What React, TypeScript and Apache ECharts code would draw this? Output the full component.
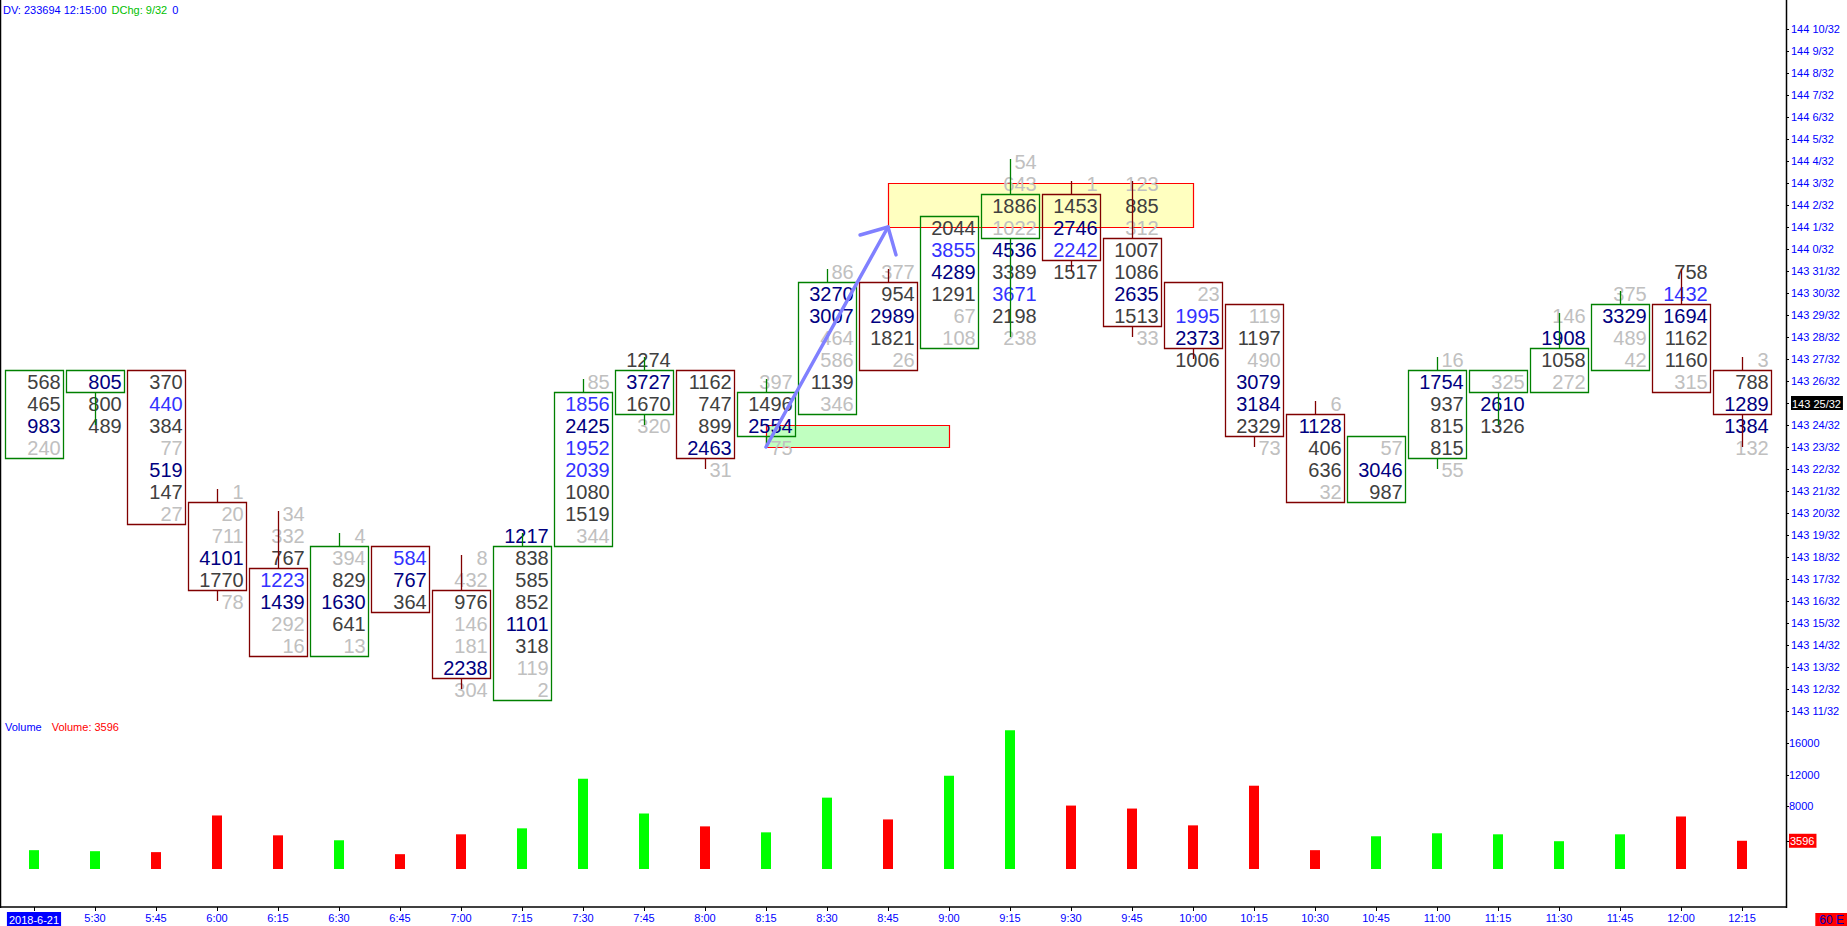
import React from "react";
import * as echarts from "echarts";

// bar times (first one shows the session date)
const timeLabels = [
  "2018-6-21", "5:30", "5:45", "6:00", "6:15", "6:30", "6:45", "7:00", "7:15", "7:30",
  "7:45", "8:00", "8:15", "8:30", "8:45", "9:00", "9:15", "9:30", "9:45", "10:00",
  "10:15", "10:30", "10:45", "11:00", "11:15", "11:30", "11:45", "12:00", "12:15",
];

// prices in 32nds above 143
const highs = [26, 26, 26, 21, 20, 19, 18, 18, 19, 26, 27, 26, 26, 31, 31, 33, 36, 35, 35, 30, 29, 25, 23, 27, 26, 29, 30, 31, 27];
const opens = [23, 26, 26, 20, 17, 14, 18, 16, 12, 19, 25, 26, 24, 25, 30, 28, 33, 34, 32, 30, 29, 24, 21, 23, 26, 26, 27, 29, 26];
const closes = [26, 26, 20, 17, 14, 18, 16, 13, 18, 25, 26, 23, 25, 30, 27, 33, 34, 32, 29, 28, 24, 21, 23, 26, 26, 27, 29, 26, 25];

// traded volume per price level, from the high down
const cellValues = [
  [568, 465, 983, 240],
  [805, 800, 489],
  [370, 440, 384, 77, 519, 147, 27],
  [1, 20, 711, 4101, 1770, 78],
  [34, 332, 767, 1223, 1439, 292, 16],
  [4, 394, 829, 1630, 641, 13],
  [584, 767, 364],
  [8, 432, 976, 146, 181, 2238, 304],
  [1217, 838, 585, 852, 1101, 318, 119, 2],
  [85, 1856, 2425, 1952, 2039, 1080, 1519, 344],
  [1274, 3727, 1670, 320],
  [1162, 747, 899, 2463, 31],
  [397, 1496, 2554, 75],
  [86, 3270, 3007, 464, 586, 1139, 346],
  [377, 954, 2989, 1821, 26],
  [2044, 3855, 4289, 1291, 67, 108],
  [54, 643, 1886, 1022, 4536, 3389, 3671, 2198, 238],
  [1, 1453, 2746, 2242, 1517],
  [123, 885, 312, 1007, 1086, 2635, 1513, 33],
  [23, 1995, 2373, 1006],
  [119, 1197, 490, 3079, 3184, 2329, 73],
  [6, 1128, 406, 636, 32],
  [57, 3046, 987],
  [16, 1754, 937, 815, 815, 55],
  [325, 2610, 1326],
  [146, 1908, 1058, 272],
  [375, 3329, 489, 42],
  [758, 1432, 1694, 1162, 1160, 315],
  [3, 788, 1289, 1384, 132],
];

// level class: g = thin, k = normal, n = strong, b = imbalance
const cellClasses = [
  "kkng", "nkk", "kbkgnkg", "gggnkg", "ggkbngg", "ggknkg", "bnk", "ggkggng",
  "nkkknkgg", "gbnbbkkg", "knkg", "kkkng", "gkng", "gnnggkg", "gknkg", "kbnkgg",
  "ggkgnkbkg", "gknbk", "gkgkknkg", "gbnk", "gkgnnkg", "gnkkg", "gnk", "gnkkkg",
  "gnk", "gnkg", "gngg", "kbnkkg", "gknng",
];

const volumes = [
  2400, 2270, 2150, 6820, 4290, 3660, 1890, 4420, 5180, 11490, 7070, 5430, 4670, 9090, 6315,
  11870, 17680, 8080, 7700, 5560, 10610, 2400, 4170, 4550, 4420, 3540, 4420, 6690, 3596,
];

const priceTicks = [11, 12, 13, 14, 15, 16, 17, 18, 19, 20, 21, 22, 23, 24, 25, 26, 27, 28, 29, 30, 31, 32, 33, 34, 35, 36, 37, 38, 39, 40, 41, 42];
const volumeTicks = [3596, 8000, 12000, 16000];
const lastPrice = 25;
const lastVolume = 3596;

// annotations: [fromBar, fromPrice, toBar, toPrice]
const zones = [
  [14, 35, 19, 33],
  [12, 24, 15, 23],
];
const zoneFills = ["#ffffc0", "#c0ffc0"];
const arrows = [[12, 23, 14, 33]];

const palette: Record<string, string> = {
  g: "#c0c0c0",
  k: "#404040",
  n: "#000080",
  b: "#3333ff",
};
const font = "Liberation Sans";

const fmtPrice = (v: number) => `${143 + Math.floor(v / 32)} ${v % 32}/32`;

export default function App() {
  const chartRef = React.useRef<HTMLDivElement>(null);

  React.useEffect(() => {
    if (!chartRef.current) return;
    const chart = echarts.init(chartRef.current, null, { renderer: "svg" });

    const renderFootprint = (params: any, api: any) => {
      const i = params.dataIndex;
      const vals = cellValues[i];
      const cls = cellClasses[i];
      const top = highs[i];
      const low = top - vals.length + 1;
      const up = closes[i] >= opens[i];
      const edge = up ? "#008000" : "#800000";
      const boxHi = Math.max(opens[i], closes[i]);
      const boxLo = Math.min(opens[i], closes[i]);
      const [cx, yTop] = api.coord([i, boxHi + 0.5]);
      const yBot = api.coord([i, boxLo - 0.5])[1];
      const colW = api.size([1, 1])[0];
      const half = colW * 0.472;
      const children: any[] = [
        {
          type: "rect",
          shape: { x: Math.round(cx - half) + 0.5, y: Math.round(yTop) + 0.5, width: Math.round(half * 2), height: Math.round(yBot - yTop) },
          style: { fill: "none", stroke: edge, lineWidth: 1.3 },
        },
      ];
      vals.forEach((v, k) => {
        const y = api.coord([i, top - k])[1];
        children.push({
          type: "text",
          style: {
            text: String(v),
            x: cx + colW * 0.437,
            y: y + 1,
            align: "right",
            verticalAlign: "middle",
            fill: palette[cls[k]],
            fontSize: 20,
            fontFamily: font,
          },
        });
      });
      const wx = Math.round(cx) + 0.5;
      if (top > boxHi) {
        const yH = api.coord([i, top])[1];
        children.push({ type: "line", shape: { x1: wx, y1: yH - 2, x2: wx, y2: yTop }, style: { stroke: edge, lineWidth: 1.3 } });
      }
      if (low < boxLo) {
        const yL = api.coord([i, low])[1];
        children.push({ type: "line", shape: { x1: wx, y1: yBot, x2: wx, y2: yL }, style: { stroke: edge, lineWidth: 1.3 } });
      }
      return { type: "group", children };
    };

    const renderZone = (params: any, api: any) => {
      const [b1, p1, b2, p2] = zones[params.dataIndex];
      const a = api.coord([b1, p1]);
      const b = api.coord([b2, p2]);
      return {
        type: "rect",
        shape: { x: Math.round(a[0]) + 0.5, y: Math.round(a[1]) + 0.5, width: Math.round(b[0] - a[0]), height: Math.round(b[1] - a[1]) },
        style: { fill: zoneFills[params.dataIndex], stroke: "#ff0000", lineWidth: 1.2 },
      };
    };

    const renderArrow = (params: any, api: any) => {
      const [b1, p1, b2, p2] = arrows[params.dataIndex];
      const s = api.coord([b1, p1]);
      const e = api.coord([b2, p2]);
      const ang = Math.atan2(s[1] - e[1], s[0] - e[0]);
      const len = 29;
      const h1 = [e[0] + len * Math.cos(ang - Math.PI / 4), e[1] + len * Math.sin(ang - Math.PI / 4)];
      const h2 = [e[0] + len * Math.cos(ang + Math.PI / 4), e[1] + len * Math.sin(ang + Math.PI / 4)];
      const style = { stroke: "#8080ff", lineWidth: 3.5, fill: "none", lineCap: "round", lineJoin: "round" };
      return {
        type: "group",
        children: [
          { type: "polyline", shape: { points: [s, e] }, style },
          { type: "polyline", shape: { points: [h1, e, h2] }, style },
        ],
      };
    };

    const xMin = -34 / 61;
    const xMax = 1752 / 61;
    const tickIdx = timeLabels.map((_, i) => i);
    const plain = { fontSize: 11, fontFamily: font, fontWeight: "normal" };

    const option: any = {
      animation: false,
      backgroundColor: "#ffffff",
      textStyle: { fontFamily: font },
      title: [
        {
          text: "{a|DV: 233694 12:15:00} {b|DChg: 9/32} {a|0}",
          left: 3,
          top: 1,
          padding: 0,
          textStyle: {
            fontWeight: "normal",
            rich: {
              a: { color: "#0000ff", ...plain },
              b: { color: "#00c000", ...plain },
            },
          },
        },
        {
          text: "{a|Volume}  {b|Volume: 3596}",
          left: 5,
          top: 718,
          padding: 0,
          textStyle: {
            fontWeight: "normal",
            rich: {
              a: { color: "#0000ff", ...plain },
              b: { color: "#ff0000", ...plain },
            },
          },
        },
      ],
      grid: [
        { left: 0, right: 61, top: 7, height: 726 },
        { left: 0, right: 61, top: 712, height: 158 },
      ],
      xAxis: [
        { type: "value", gridIndex: 0, min: xMin, max: xMax, show: false },
        {
          type: "value",
          gridIndex: 1,
          min: xMin,
          max: xMax,
          position: "bottom",
          offset: 38,
          splitLine: { show: false },
          axisLine: { show: true, onZero: false, lineStyle: { color: "#000000", width: 1.5 } },
          axisTick: { show: true, customValues: tickIdx, length: 4, lineStyle: { color: "#000000" } },
          axisLabel: {
            customValues: tickIdx,
            margin: 5,
            color: "#0000ff",
            fontSize: 11,
            fontFamily: font,
            formatter: (v: number) => (v === 0 ? `{d|${timeLabels[0]}}` : timeLabels[Math.round(v)]),
            rich: {
              d: { backgroundColor: "#0000ff", color: "#ffffff", fontSize: 11, fontFamily: font, padding: [2, 2, 1, 2] },
            },
          },
        },
      ],
      yAxis: [
        {
          type: "value",
          gridIndex: 0,
          position: "right",
          min: 10,
          max: 43,
          splitLine: { show: false },
          axisLine: { show: false, onZero: false },
          axisTick: { show: true, customValues: priceTicks, length: 3, lineStyle: { color: "#000000" } },
          axisLabel: {
            customValues: priceTicks,
            margin: 5,
            color: "#0000ff",
            fontSize: 11,
            fontFamily: font,
            formatter: (v: number) => (v === lastPrice ? `{c|${fmtPrice(v)}}` : fmtPrice(v)),
            rich: {
              c: { backgroundColor: "#000000", color: "#ffffff", fontSize: 11, fontFamily: font, padding: [2, 2, 1, 1] },
            },
          },
        },
        {
          type: "value",
          gridIndex: 1,
          position: "right",
          min: 0,
          max: 20000,
          splitLine: { show: false },
          axisLine: { show: false, onZero: false },
          axisTick: { show: true, customValues: volumeTicks, length: 3, lineStyle: { color: "#000000" } },
          axisLabel: {
            customValues: volumeTicks,
            margin: 3,
            color: "#0000ff",
            fontSize: 11,
            fontFamily: font,
            formatter: (v: number) => (v === lastVolume ? `{c|${v}}` : String(v)),
            rich: {
              c: { backgroundColor: "#ff0000", color: "#ffffff", fontSize: 11, fontFamily: font, padding: [2, 2, 1, 1] },
            },
          },
        },
      ],
      series: [
        {
          type: "custom",
          name: "zones",
          xAxisIndex: 0,
          yAxisIndex: 0,
          z: 1,
          renderItem: renderZone,
          data: zones.map((z) => [z[0], z[1]]),
        },
        {
          type: "custom",
          name: "footprint",
          xAxisIndex: 0,
          yAxisIndex: 0,
          z: 2,
          renderItem: renderFootprint,
          data: highs.map((h, i) => [i, h]),
        },
        {
          type: "custom",
          name: "arrow",
          xAxisIndex: 0,
          yAxisIndex: 0,
          z: 3,
          renderItem: renderArrow,
          data: arrows.map((a) => [a[0], a[1]]),
        },
        {
          type: "bar",
          name: "Volume",
          xAxisIndex: 1,
          yAxisIndex: 1,
          barWidth: 10,
          data: volumes.map((v, i) => ({
            value: [i, v],
            itemStyle: { color: closes[i] >= opens[i] ? "#00ff00" : "#ff0000" },
          })),
        },
      ],
      graphic: [
        { type: "line", shape: { x1: 0.5, y1: 0, x2: 0.5, y2: 908 }, style: { stroke: "#000000", lineWidth: 1.5 } },
        { type: "line", shape: { x1: 1786.5, y1: 0, x2: 1786.5, y2: 908 }, style: { stroke: "#000000", lineWidth: 1.5 } },
        {
          type: "text",
          right: 0,
          bottom: 0,
          style: {
            text: "60 E",
            fill: "#0000c0",
            fontSize: 12,
            fontFamily: font,
            backgroundColor: "#ff0000",
            padding: [1, 3, 0, 4],
          },
        },
      ],
    };

    chart.setOption(option);
    return () => {
      chart.dispose();
    };
  }, []);

  return (
    <div
      ref={chartRef}
      style={{ position: "fixed", left: 0, top: 0, width: 1847, height: 926, background: "#ffffff" }}
    />
  );
}
